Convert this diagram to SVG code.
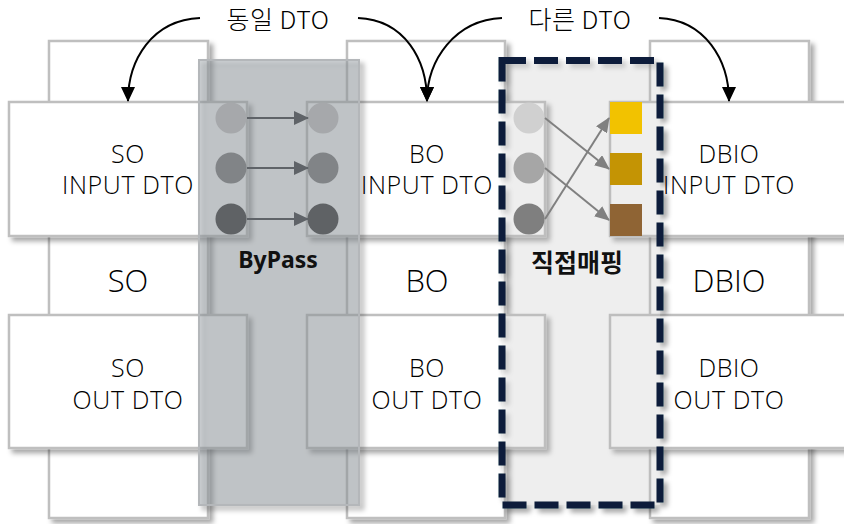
<svg xmlns="http://www.w3.org/2000/svg" width="844" height="524" viewBox="0 0 844 524">
<defs>
<filter id="sh" x="-10%" y="-10%" width="130%" height="130%">
<feDropShadow dx="4" dy="4" stdDeviation="2.5" flood-color="#000" flood-opacity="0.35"/>
</filter>
<marker id="ahb" viewBox="0 0 15 14" refX="14" refY="7" markerUnits="userSpaceOnUse" markerWidth="15" markerHeight="14" orient="auto"><path d="M0,0L15,7L0,14z" fill="#000"/></marker>
<marker id="ahg" viewBox="0 0 15 14" refX="14" refY="7" markerUnits="userSpaceOnUse" markerWidth="15" markerHeight="14" orient="auto"><path d="M0,0L15,7L0,14z" fill="#5f6368"/></marker>
<marker id="ahm" viewBox="0 0 15 13" refX="14" refY="6.5" markerUnits="userSpaceOnUse" markerWidth="15" markerHeight="13" orient="auto"><path d="M0,0L15,6.5L0,13z" fill="#808080"/></marker>
</defs>
<style>
.box{fill:#fff;stroke:#bfbfbf;stroke-width:2.5;filter:url(#sh)}
.t{font-family:"Open Sans","Noto Sans CJK KR",sans-serif;font-weight:300;font-size:25px;letter-spacing:0.6px;fill:#000;text-anchor:middle}
.big{font-size:31px;letter-spacing:0}
.kr{font-family:"Noto Sans CJK KR",sans-serif;font-weight:300;font-size:25px;letter-spacing:0.5px;fill:#000;text-anchor:middle}
.b{font-family:"Noto Sans","Noto Sans CJK KR",sans-serif;font-weight:bold;font-size:23px;text-anchor:middle;fill:#111}
.cur{fill:none;stroke:#000;stroke-width:2;marker-end:url(#ahb)}
.ga{stroke:#5f6368;stroke-width:2;marker-end:url(#ahg)}
.ma{stroke:#808080;stroke-width:2;marker-end:url(#ahm)}
</style>
<g id="so-col"><rect class="box" x="49" y="41" width="159" height="477"/><text class="t big" x="128" y="292">SO</text></g>
<g id="bo-col"><rect class="box" x="347" y="41" width="158" height="477"/><text class="t big" x="427" y="292">BO</text></g>
<g id="dbio-col"><rect class="box" x="650" y="41" width="159" height="477"/><text class="t big" x="729" y="292">DBIO</text></g>
<g id="so-input"><rect class="box" x="9" y="102" width="238" height="134"/><text class="t" x="128" y="163">SO</text><text class="t" x="128" y="194">INPUT DTO</text></g>
<g id="bo-input"><rect class="box" x="307" y="102" width="238" height="134"/><text class="t" x="427" y="163">BO</text><text class="t" x="427" y="194">INPUT DTO</text></g>
<g id="dbio-input"><rect class="box" x="610" y="102" width="240" height="134"/><text class="t" x="729" y="163">DBIO</text><text class="t" x="729" y="194">INPUT DTO</text></g>
<g id="so-out"><rect class="box" x="9" y="315" width="238" height="133"/><text class="t" x="128" y="377">SO</text><text class="t" x="128" y="409">OUT DTO</text></g>
<g id="bo-out"><rect class="box" x="307" y="315" width="238" height="133"/><text class="t" x="427" y="377">BO</text><text class="t" x="427" y="409">OUT DTO</text></g>
<g id="dbio-out"><rect class="box" x="610" y="315" width="240" height="133"/><text class="t" x="729" y="377">DBIO</text><text class="t" x="729" y="409">OUT DTO</text></g>
<g id="bypass">
<rect x="199" y="60" width="160" height="445" fill="#959ba2" fill-opacity="0.45" stroke="#b4b7ba" stroke-width="2" filter="url(#sh)"/>
<circle cx="231" cy="118" r="15.5" fill="#a6a8ab"/><circle cx="231" cy="168" r="15.5" fill="#818487"/><circle cx="231" cy="219" r="15.5" fill="#5f6265"/>
<circle cx="323" cy="118" r="15.5" fill="#a6a8ab"/><circle cx="323" cy="168" r="15.5" fill="#818487"/><circle cx="323" cy="219" r="15.5" fill="#5f6265"/>
<text class="b" x="278" y="268">ByPass</text>
</g>
<g id="direct-mapping">
<rect x="502" y="60.5" width="158" height="444.5" fill="#d0d0d0" fill-opacity="0.2" stroke="#0c1f3a" stroke-width="7" stroke-dasharray="24 8" filter="url(#sh)"/>
<circle cx="529" cy="118" r="15.5" fill="#d0d0d0"/><circle cx="529" cy="168" r="15.5" fill="#a6a6a6"/><circle cx="529" cy="219" r="15.5" fill="#7f7f7f"/>
<rect x="610" y="102" width="32" height="32" fill="#f2c200"/>
<rect x="610" y="153" width="32" height="32" fill="#c49404"/>
<rect x="610" y="204" width="32" height="32" fill="#8f6434"/>
<text class="b" x="577" y="272" style="font-family:'Noto Sans CJK KR',sans-serif;font-size:25px">직접매핑</text>
</g>
<g id="connectors">
<path class="cur" d="M200,18 C152,20 128,60 128,101"/>
<path class="cur" d="M358,18 C405,20 427,60 427,101"/>
<path class="cur" d="M502,18 C455,20 427,60 427,101"/>
<path class="cur" d="M659,18 C705,20 729,60 729,101"/>
<line class="ga" x1="247" y1="118" x2="308" y2="118"/>
<line class="ga" x1="247" y1="168" x2="308" y2="168"/>
<line class="ga" x1="247" y1="219" x2="308" y2="219"/>
<line class="ma" x1="545" y1="118" x2="609" y2="169"/>
<line class="ma" x1="545" y1="168" x2="609" y2="220"/>
<line class="ma" x1="545" y1="219" x2="609" y2="118"/>
</g>
<g id="labels">
<text class="kr" x="278" y="29">동일 DTO</text>
<text class="kr" x="580" y="29">다른 DTO</text>
</g>
</svg>
